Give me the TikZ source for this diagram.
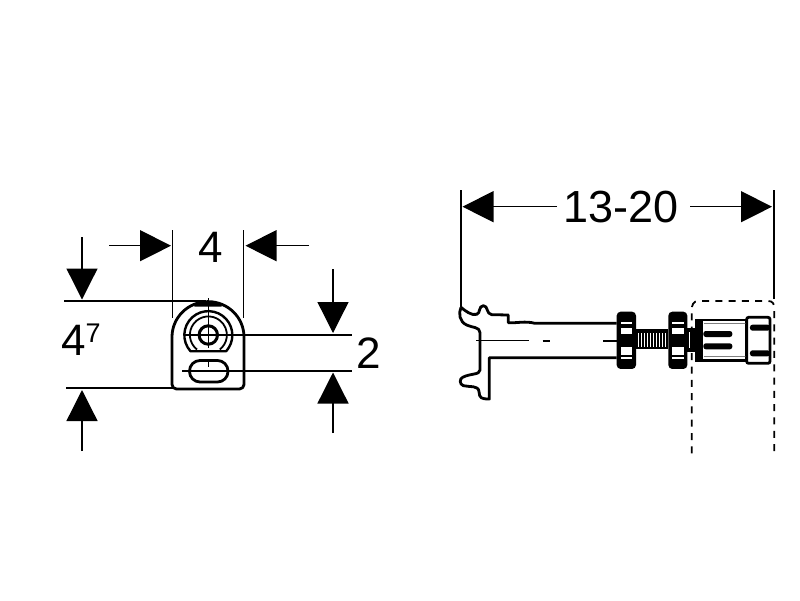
\documentclass[tikz,border=0pt]{standalone}
\usepackage{fontspec}
\setmainfont{Liberation Sans}
\usetikzlibrary{arrows.meta}
\begin{document}
\begin{tikzpicture}[x=1pt,y=-1pt,
  dimarrow/.style={line width=1.3pt,-{Triangle[length=31pt,width=31pt]}},
  thinline/.style={line width=1.3pt},
  outline/.style={line width=2.8pt,line join=round},
  hairdash/.style={line width=1.8pt,dash pattern=on 7pt off 6.3pt},
  dimtext/.style={font=\fontsize{44}{44}\selectfont,inner sep=0pt}]
\useasboundingbox (0,0) rectangle (800,600);
\fill[white] (0,0) rectangle (800,600);

% ---- left view: dimension anchors
\coordinate (a1) at (109,245.7); \coordinate (a1t) at (171,245.7);
\coordinate (a2) at (309,245.7); \coordinate (a2t) at (245.5,245.7);
\coordinate (b1) at (82,237);    \coordinate (b1t) at (82,299.5);
\coordinate (b2) at (82,451);    \coordinate (b2t) at (82,390);
\coordinate (c1) at (333,269);   \coordinate (c1t) at (333,333);
\coordinate (c2) at (333,433);   \coordinate (c2t) at (333,372.5);
\draw[dimarrow] (a1) -- (a1t);
\draw[dimarrow] (a2) -- (a2t);
\draw[dimarrow] (b1) -- (b1t);
\draw[dimarrow] (b2) -- (b2t);
\draw[dimarrow] (c1) -- (c1t);
\draw[dimarrow] (c2) -- (c2t);
\draw[thinline] (172.3,230) -- (172.3,318);
\draw[thinline] (243.3,230) -- (243.3,318);
\draw[thinline] (64,301) -- (206,301);
\draw[thinline] (66,388) -- (173,388);
\draw[thinline] (184,335) -- (352,335);
\draw[thinline,line width=1.6pt] (182,370.7) -- (352,370.7);
\draw[thinline] (208.3,298) -- (208.3,348);
\draw[thinline] (208.3,362) -- (208.3,367);

\node[dimtext] (four) at (211,247) {4};
\node[dimtext,anchor=base west] (fourseven) at (61,355) {4\raisebox{12.5pt}{\fontsize{27}{27}\selectfont 7}};
\node[dimtext] (two) at (368.5,353) {2};

% plate
\draw[outline,rounded corners=4.5pt] (172,337) -- (172,389) -- (244,389) -- (244,337);
\draw[outline] (172,337) arc[start angle=180,end angle=0,x radius=36pt,y radius=35.4pt];
\fill (194,303.6) .. controls (203,300.4) and (213,300.4) .. (222,303.6) -- (221.5,306.6) -- (194.5,306.6) -- cycle;
% rings
\draw[outline,line width=2.4pt] (190.5,351.2) arc[start angle=222,end angle=-42,radius=24pt] -- cycle;
\draw[line width=1.8pt] (197,349.5) arc[start angle=232,end angle=-52,radius=18.5pt];
\draw[line width=3pt] (208.3,335) circle[radius=9.2pt];
% slot
\draw[outline,rounded corners=10.5pt] (189.5,360.5) rectangle (228,382);

% ---- right view dimension
\coordinate (d1) at (557,206.7); \coordinate (d1t) at (462.5,206.7);
\coordinate (d2) at (690,206.7); \coordinate (d2t) at (772,206.7);
\draw[dimarrow] (d1) -- (d1t);
\draw[dimarrow] (d2) -- (d2t);
\draw[thinline] (461,190) -- (461,307);
\draw[thinline] (774,190) -- (774,299);
\node[dimtext,font=\fontsize{45}{45}\selectfont] (span) at (621,207) {13-20};

% ---- bracket
\begin{scope}[xshift=450pt,yshift=-290pt,x=0.3333pt,y=-0.3333pt]
\draw[outline]
  (33,52) .. controls (25,70) and (28,95) .. (50,105)
  .. controls (65,113) and (90,110) .. (90,128)
  -- (90,240) .. controls (90,255) and (60,250) .. (38,262)
  .. controls (28,266) and (28,283) .. (40,287)
  .. controls (60,292) and (85,285) .. (87,305)
  .. controls (88,325) and (95,327) .. (118,327)
  -- (118,203) -- (500,203);
\draw[outline]
  (33,52) .. controls (45,62) and (65,78) .. (80,73)
  .. controls (92,70) and (85,48) .. (100,47)
  .. controls (115,47) and (108,72) .. (125,74)
  -- (175,75) -- (175,98) .. controls (200,100) and (225,92) .. (255,100) -- (500,100);
\draw[thinline] (78,152) -- (238,152);
\draw[thinline,line width=1.8pt] (278,152) -- (299,152);
\draw[thinline,line width=1.8pt] (460,152) -- (500,152);
\end{scope}

% ---- nuts, thread and cap
\begin{scope}[xshift=605pt,yshift=-290pt,x=0.3333pt,y=-0.3333pt]
\fill[rounded corners=4pt] (35,65) rectangle (93,237);
\fill[rounded corners=4pt] (190,65) rectangle (247,237);
\fill[white] (48,114) rectangle (82,132);
\fill[white] (48,170) rectangle (82,196);
\fill[white] (48,96) rectangle (82,102);
\fill[white] (48,200) rectangle (82,206);
\fill[white] (202,114) rectangle (237,132);
\fill[white] (202,170) rectangle (237,196);
\fill[white] (202,96) rectangle (237,102);
\fill[white] (202,200) rectangle (237,206);
% thread
\fill (93,118) rectangle (190,178);
\foreach \sx in {98,107,116,125,134,143,152,161,170,179}
  \fill[white] (\sx,128) rectangle ++(5,42);
% collar
\fill (247,113) rectangle (272,187);
\fill[white] (252,125) rectangle (256,175);
% body
\draw[line width=2.8pt,fill=white] (275,90) rectangle (425,211);
\fill (272,88) rectangle (295,212);
\draw[line width=1.5pt,gray] (297,101) -- (423,101);
\draw[line width=1.5pt,gray] (297,199) -- (423,199);
\fill[rounded corners=2.5pt] (295,123) rectangle (382,141);
\fill[rounded corners=2.5pt] (295,160) rectangle (382,178);
% cap
\draw[line width=2.8pt,fill=white,rounded corners=2pt] (425,82) rectangle (495,220);
\fill[rounded corners=2.5pt] (435,104) rectangle (495,122);
\fill[rounded corners=2.5pt] (435,181) rectangle (495,199);
% dashed box
\draw[hairdash] (260,490) -- (260,62) .. controls (260,45) and (265,33) .. (280,33) -- (490,33) .. controls (503,33) and (508,42) .. (508,55) -- (508,495);
\end{scope}
\end{tikzpicture}
\end{document}
